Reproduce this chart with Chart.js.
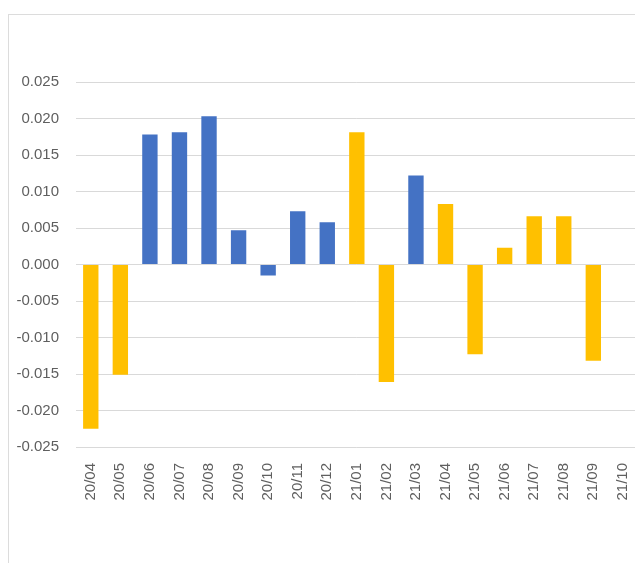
<!DOCTYPE html>
<html>
<head>
<meta charset="utf-8">
<script src="https://cdn.jsdelivr.net/npm/chart.js@4/dist/chart.umd.min.js"></script>
<style>
  html, body { margin: 0; padding: 0; background: #ffffff; overflow: hidden; width: 635px; height: 563px; }
  #frame { position: absolute; left: 8px; top: 14px; width: 700px; height: 600px;
           border-left: 1px solid #dcdcdc; border-top: 1px solid #dcdcdc; }
  #c { position: absolute; left: 9px; top: 15px; }
</style>
</head>
<body>
<div id="frame"></div>
<canvas id="c" width="640" height="548"></canvas>
<script>
const categories = ["20/04","20/05","20/06","20/07","20/08","20/09","20/10","20/11","20/12",
                    "21/01","21/02","21/03","21/04","21/05","21/06","21/07","21/08","21/09","21/10"];
// blue series (highlighted months)
const blueValues = [null, null, 0.0178, 0.0181, 0.0203, 0.0047, -0.0015, 0.0073, 0.0058,
                    null, null, 0.0122, null, null, null, null, null, null, null];
// gold series
const goldValues = [-0.0225, -0.0151, null, null, null, null, null, null, null,
                    0.0181, -0.0161, null, 0.0083, -0.0123, 0.0023, 0.0066, 0.0066, -0.0132, null];
const yMin = -0.025, yMax = 0.025, yStep = 0.005;

new Chart(document.getElementById('c'), {
  type: 'bar',
  data: {
    labels: categories,
    datasets: [
      { label: 'blue', data: blueValues, backgroundColor: '#4472C4', barPercentage: 0.52, categoryPercentage: 1 },
      { label: 'gold', data: goldValues, backgroundColor: '#FFC000', barPercentage: 0.52, categoryPercentage: 1 }
    ]
  },
  options: {
    responsive: false,
    animation: false,
    devicePixelRatio: 1,
    layout: { padding: { top: 67, right: 4.5, bottom: 0, left: 0 } },
    plugins: { legend: { display: false }, tooltip: { enabled: false } },
    scales: {
      x: {
        stacked: true,
        grid: { display: false },
        border: { display: false },
        ticks: {
          autoSkip: false, maxRotation: 90, minRotation: 90, padding: 8,
          color: '#5f5f5f', font: { family: 'Liberation Sans', size: 15 }
        },
        afterFit: (s) => { s.height = 116; }
      },
      y: {
        stacked: true,
        min: yMin, max: yMax,
        grid: { color: '#d9d9d9', lineWidth: 1, drawTicks: false },
        border: { display: false },
        ticks: {
          stepSize: yStep, padding: 17,
          color: '#5f5f5f', font: { family: 'Liberation Sans', size: 15 },
          callback: (v) => Number(v).toFixed(3)
        },
        afterFit: (s) => { s.width = 67; }
      }
    }
  }
});
</script>
</body>
</html>
